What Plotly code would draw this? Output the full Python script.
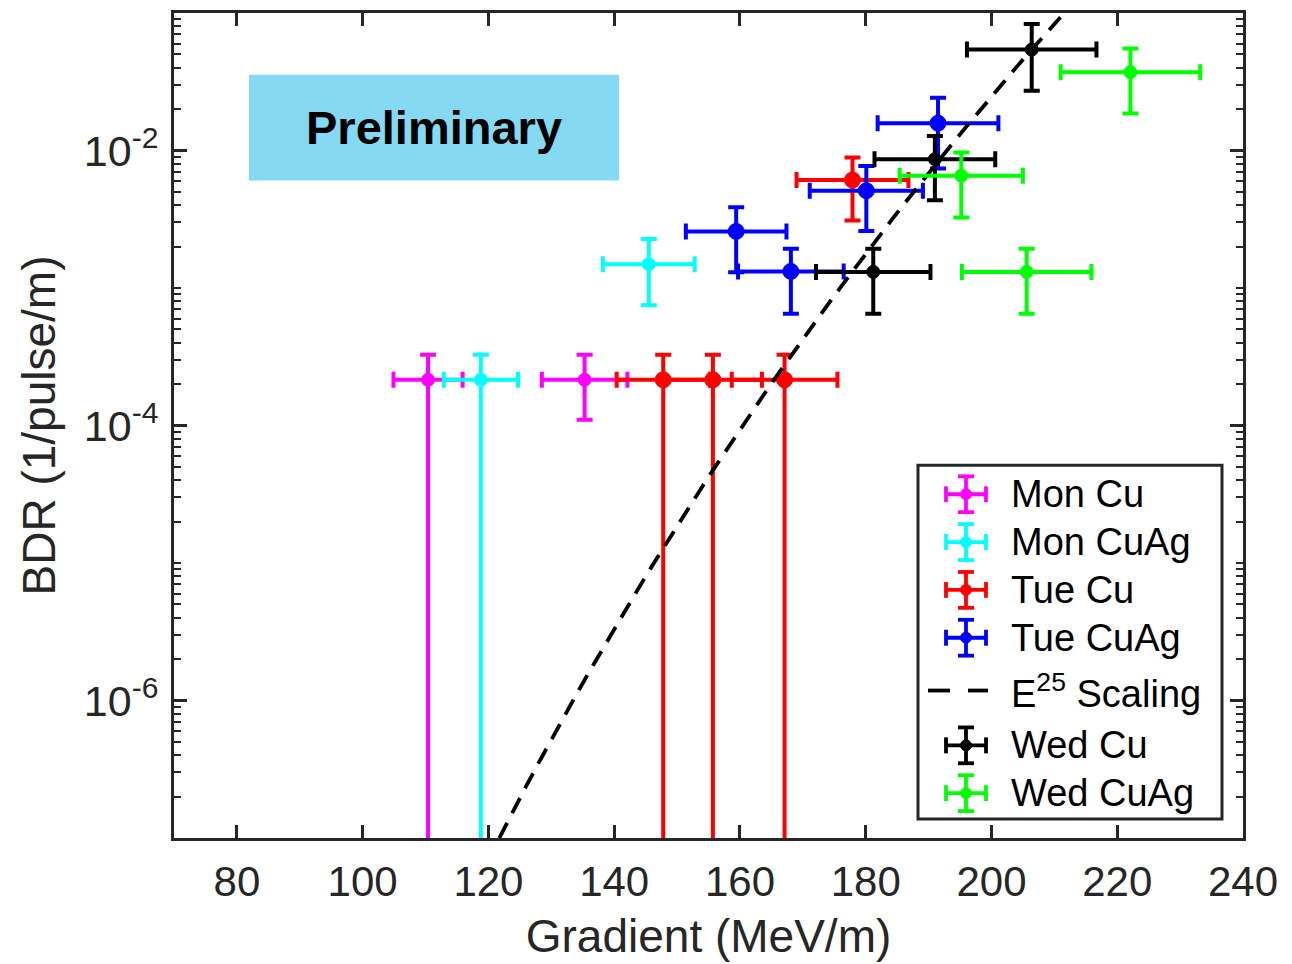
import numpy as np
import plotly.graph_objects as go

# ---- Measured breakdown rates (gradient in MeV/m, BDR in 1/pulse/m) ----
mon_cu_grad = [110.4, 135.3]
mon_cu_grad_err = [5.5, 6.8]
mon_cu_bdr = [2.15e-4, 2.15e-4]
mon_cu_bdr_hi = [1.12e-4, 1.12e-4]
mon_cu_bdr_lo = [2.15e-4, 1.05e-4]

mon_cuag_grad = [118.8, 145.5]
mon_cuag_grad_err = [5.9, 7.3]
mon_cuag_bdr = [2.15e-4, 1.49e-3]
mon_cuag_bdr_hi = [1.12e-4, 7.8e-4]
mon_cuag_bdr_lo = [2.15e-4, 7.4e-4]

tue_cu_grad = [147.8, 155.7, 167.1, 177.9]
tue_cu_grad_err = [7.4, 7.8, 8.4, 8.9]
tue_cu_bdr = [2.15e-4, 2.15e-4, 2.15e-4, 6.1e-3]
tue_cu_bdr_hi = [1.12e-4, 1.12e-4, 1.12e-4, 2.8e-3]
tue_cu_bdr_lo = [2.15e-4, 2.15e-4, 2.15e-4, 3.0e-3]

tue_cuag_grad = [159.4, 168.1, 180.1, 191.5]
tue_cuag_grad_err = [8.0, 8.4, 9.0, 9.6]
tue_cuag_bdr = [2.58e-3, 1.32e-3, 5.1e-3, 1.58e-2]
tue_cuag_bdr_hi = [1.28e-3, 6.1e-4, 2.6e-3, 8.4e-3]
tue_cuag_bdr_lo = [1.28e-3, 6.7e-4, 2.5e-3, 8.4e-3]

wed_cu_grad = [181.2, 191.0, 206.4]
wed_cu_grad_err = [9.1, 9.6, 10.3]
wed_cu_bdr = [1.31e-3, 8.65e-3, 5.42e-2]
wed_cu_bdr_hi = [6.2e-4, 4.1e-3, 2.9e-2]
wed_cu_bdr_lo = [6.6e-4, 4.3e-3, 2.7e-2]

wed_cuag_grad = [195.2, 205.6, 222.1]
wed_cuag_grad_err = [9.8, 10.3, 11.1]
wed_cuag_bdr = [6.56e-3, 1.31e-3, 3.71e-2]
wed_cuag_bdr_hi = [3.1e-3, 6.2e-4, 1.8e-2]
wed_cuag_bdr_lo = [3.3e-3, 6.6e-4, 1.85e-2]

# E^25 scaling law, normalised to a reference point
scaling_exponent = 25
scaling_ref_grad = 211.5
scaling_ref_bdr = 0.1

x_tick_vals = [80, 100, 120, 140, 160, 180, 200, 220, 240]
y_tick_vals = [1e-6, 1e-4, 1e-2]
y_tick_text = ["10<sup>-6</sup>", "10<sup>-4</sup>", "10<sup>-2</sup>"]

AXIS_COLOR = "#262626"
FONT = "Liberation Sans"

series = [
    ("Mon Cu", "#FF00FF", 13, mon_cu_grad, mon_cu_grad_err, mon_cu_bdr, mon_cu_bdr_hi, mon_cu_bdr_lo),
    ("Mon CuAg", "#00FFFF", 13, mon_cuag_grad, mon_cuag_grad_err, mon_cuag_bdr, mon_cuag_bdr_hi, mon_cuag_bdr_lo),
    ("Tue Cu", "#FF0000", 16, tue_cu_grad, tue_cu_grad_err, tue_cu_bdr, tue_cu_bdr_hi, tue_cu_bdr_lo),
    ("Tue CuAg", "#0000FF", 16, tue_cuag_grad, tue_cuag_grad_err, tue_cuag_bdr, tue_cuag_bdr_hi, tue_cuag_bdr_lo),
    ("E25", None, None, None, None, None, None, None),
    ("Wed Cu", "#000000", 13, wed_cu_grad, wed_cu_grad_err, wed_cu_bdr, wed_cu_bdr_hi, wed_cu_bdr_lo),
    ("Wed CuAg", "#00FF00", 13, wed_cuag_grad, wed_cuag_grad_err, wed_cuag_bdr, wed_cuag_bdr_hi, wed_cuag_bdr_lo),
]

fig = go.Figure()

for name, color, msize, gx, gxe, b, bhi, blo in series:
    if name == "E25":
        e = np.arange(110.0, 226.0, 2.0)
        bdr_fit = scaling_ref_bdr * (e / scaling_ref_grad) ** scaling_exponent
        fig.add_trace(go.Scatter(
            x=e, y=bdr_fit, mode="lines", name="E^25 Scaling",
            line=dict(color="black", width=3.8, dash="17px,11px"),
        ))
        continue
    fig.add_trace(go.Scatter(
        x=gx, y=b, mode="markers", name=name,
        marker=dict(symbol="circle", size=msize, color=color, line=dict(width=1, color=color)),
        error_x=dict(type="data", array=gxe, symmetric=True, color=color, thickness=4, width=8),
        error_y=dict(type="data", array=bhi, arrayminus=blo, symmetric=False,
                     color=color, thickness=4, width=8),
    ))

# minor ticks on the log axis: 2..9 within every decade, plus the unlabelled decades
minor_vals = []
for k in range(-7, -1):
    for m in range(1, 10):
        v = m * 10.0 ** k
        if m == 1 and v in y_tick_vals:
            continue
        minor_vals.append(v)
minor_vals.append(1e-1)

fig.update_layout(
    width=1292, height=964, autosize=False,
    margin=dict(l=174, r=49, t=10, b=126, pad=0),
    paper_bgcolor="white", plot_bgcolor="white",
    showlegend=False,
    font=dict(family=FONT, color=AXIS_COLOR),
    xaxis=dict(
        range=[70, 240], tickmode="array", tickvals=x_tick_vals,
        ticks="inside", ticklen=13, tickwidth=2.5, tickcolor=AXIS_COLOR,
        showline=True, linewidth=3, linecolor=AXIS_COLOR, mirror="ticks",
        showgrid=False, zeroline=False,
        tickfont=dict(size=42, family=FONT, color=AXIS_COLOR),
        ticklabelstandoff=5,
        title=dict(text="Gradient (MeV/m)", font=dict(size=46, family=FONT, color=AXIS_COLOR), standoff=16),
    ),
    yaxis=dict(
        type="log", range=[-7, -1], tickmode="array",
        tickvals=y_tick_vals, ticktext=y_tick_text,
        ticks="inside", ticklen=13, tickwidth=2.5, tickcolor=AXIS_COLOR,
        minor=dict(tickmode="array", tickvals=minor_vals, ticks="inside",
                   ticklen=7, tickwidth=2, tickcolor=AXIS_COLOR, showgrid=False),
        showline=True, linewidth=3, linecolor=AXIS_COLOR, mirror="ticks",
        showgrid=False, zeroline=False,
        tickfont=dict(size=43, family=FONT, color=AXIS_COLOR),
        ticklabelstandoff=4,
        title=dict(text="BDR (1/pulse/m)", font=dict(size=46, family=FONT, color=AXIS_COLOR), standoff=14),
    ),
)

# ---- annotation box and legend, positioned in figure pixels ----
PLOT_L, PLOT_R, PLOT_T, PLOT_B = 174, 1243, 10, 838


def fx(p):
    return (p - PLOT_L) / (PLOT_R - PLOT_L)


def fy(p):
    return (PLOT_B - p) / (PLOT_B - PLOT_T)


def seg(x0, y0, x1, y1, color, width=3.8, dash=None):
    fig.add_shape(type="line", xref="paper", yref="paper",
                  x0=fx(x0), y0=fy(y0), x1=fx(x1), y1=fy(y1),
                  line=dict(color=color, width=width, dash=dash), layer="above")


# "Preliminary" label
fig.add_shape(type="rect", xref="paper", yref="paper",
              x0=fx(249), y0=fy(178), x1=fx(619), y1=fy(72),
              fillcolor="#85D9F2", line=dict(width=0), layer="above")
fig.add_annotation(xref="paper", yref="paper", x=fx(434), y=fy(125),
                   text="<b>Preliminary</b>", showarrow=False,
                   xanchor="center", yanchor="middle",
                   font=dict(size=47, family=FONT, color="black"))

# legend frame
fig.add_shape(type="rect", xref="paper", yref="paper",
              x0=fx(918), y0=fy(819), x1=fx(1222), y1=fy(464),
              fillcolor="white", line=dict(color=AXIS_COLOR, width=3), layer="above")

legend_rows = [493, 541, 589, 637, 690, 745, 793]
sym_x = 966
for (name, color, msize, *_), ry in zip(series, legend_rows):
    if name == "E25":
        seg(928, ry, 950, ry, "black")
        seg(968, ry, 988, ry, "black")
        label = "E<sup>25</sup> Scaling"
    else:
        seg(sym_x - 20, ry, sym_x + 20, ry, color)
        seg(sym_x, ry - 18, sym_x, ry + 18, color)
        seg(sym_x - 20, ry - 8, sym_x - 20, ry + 8, color)
        seg(sym_x + 20, ry - 8, sym_x + 20, ry + 8, color)
        seg(sym_x - 8, ry - 18, sym_x + 8, ry - 18, color)
        seg(sym_x + 8, ry + 18, sym_x - 8, ry + 18, color)
        r = 5.5
        fig.add_shape(type="circle", xref="paper", yref="paper",
                      x0=fx(sym_x - r), y0=fy(ry + r), x1=fx(sym_x + r), y1=fy(ry - r),
                      fillcolor=color, line=dict(color=color, width=1), layer="above")
        label = name
    fig.add_annotation(xref="paper", yref="paper", x=fx(1009), y=fy(ry),
                       text=label, showarrow=False, xanchor="left", yanchor="middle",
                       font=dict(size=38, family=FONT, color="black"))

fig.write_html("out.html")
